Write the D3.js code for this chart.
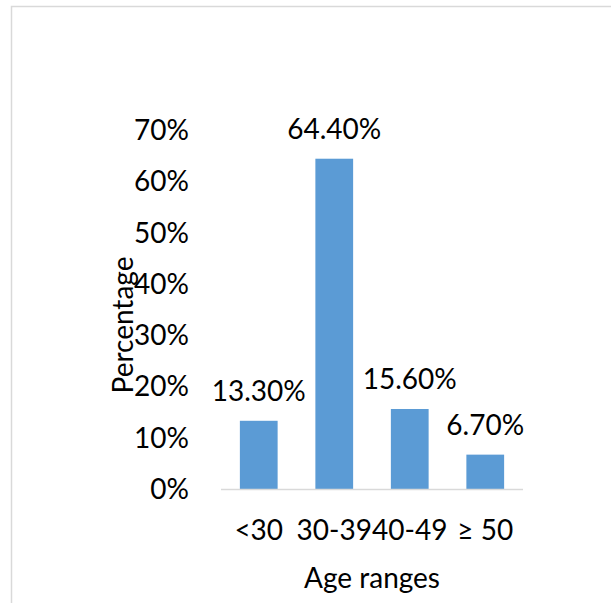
<!DOCTYPE html>
<html>
<head>
  <meta charset="utf-8">
  <title>Age ranges</title>
  <script src="https://d3js.org/d3.v7.min.js"></script>
  <style>
    body { margin: 0; background: #fff; }
    text { font-family: Lato, "Open Sans", sans-serif; font-size: 28px; fill: #000; }
    .frame { fill: none; stroke: #d9d9d9; stroke-width: 1.5px; }
    .bar { fill: #5b9bd5; }
    .baseline { stroke: #d9d9d9; stroke-width: 1.5px; }
  </style>
</head>
<body>
  <svg width="611" height="603"></svg>

  <script>
    const categories = ["<30", "30-39", "40-49", "\u2265 50"];
    const values = [13.3, 64.4, 15.6, 6.7];
    const yTicks = [0, 10, 20, 30, 40, 50, 60, 70];

    const svg = d3.select("svg");

    // chart border (right and bottom run off the picture)
    svg.append("rect")
      .attr("class", "frame")
      .attr("x", 11.5)
      .attr("y", 6.5)
      .attr("width", 640)
      .attr("height", 640);

    const plot = { left: 221, right: 523, top: 130, bottom: 489 };

    const x = d3.scaleBand()
      .domain(categories)
      .range([plot.left, plot.right])
      .paddingInner(0.5)
      .paddingOuter(0.25);

    const y = d3.scaleLinear()
      .domain([0, 70])
      .range([plot.bottom, plot.top]);

    // y tick labels
    svg.selectAll("text.ytick")
      .data(yTicks)
      .enter().append("text")
      .attr("class", "ytick")
      .attr("x", 189)
      .attr("y", d => y(d) + 10)
      .attr("text-anchor", "end")
      .text(d => d + "%");

    // bars
    svg.selectAll("rect.bar")
      .data(values)
      .enter().append("rect")
      .attr("class", "bar")
      .attr("x", (d, i) => x(categories[i]))
      .attr("y", d => y(d))
      .attr("width", x.bandwidth())
      .attr("height", d => y(0) - y(d));

    // axis line
    svg.append("line")
      .attr("class", "baseline")
      .attr("x1", plot.left)
      .attr("x2", plot.right)
      .attr("y1", plot.bottom + 0.5)
      .attr("y2", plot.bottom + 0.5);

    // data labels
    svg.selectAll("text.label")
      .data(values)
      .enter().append("text")
      .attr("class", "label")
      .attr("x", (d, i) => x(categories[i]) + x.bandwidth() / 2)
      .attr("y", d => y(d) - 19.5)
      .attr("text-anchor", "middle")
      .text(d => d.toFixed(2) + "%");

    // category labels
    svg.selectAll("text.xtick")
      .data(categories)
      .enter().append("text")
      .attr("class", "xtick")
      .attr("x", d => x(d) + x.bandwidth() / 2)
      .attr("y", 540)
      .attr("text-anchor", "middle")
      .text(d => d);

    // axis titles
    svg.append("text")
      .attr("x", (plot.left + plot.right) / 2)
      .attr("y", 588)
      .attr("text-anchor", "middle")
      .text("Age ranges");

    svg.append("text")
      .attr("transform", "translate(133,325) rotate(-90)")
      .attr("text-anchor", "middle")
      .text("Percentage");
  </script>
</body>
</html>
